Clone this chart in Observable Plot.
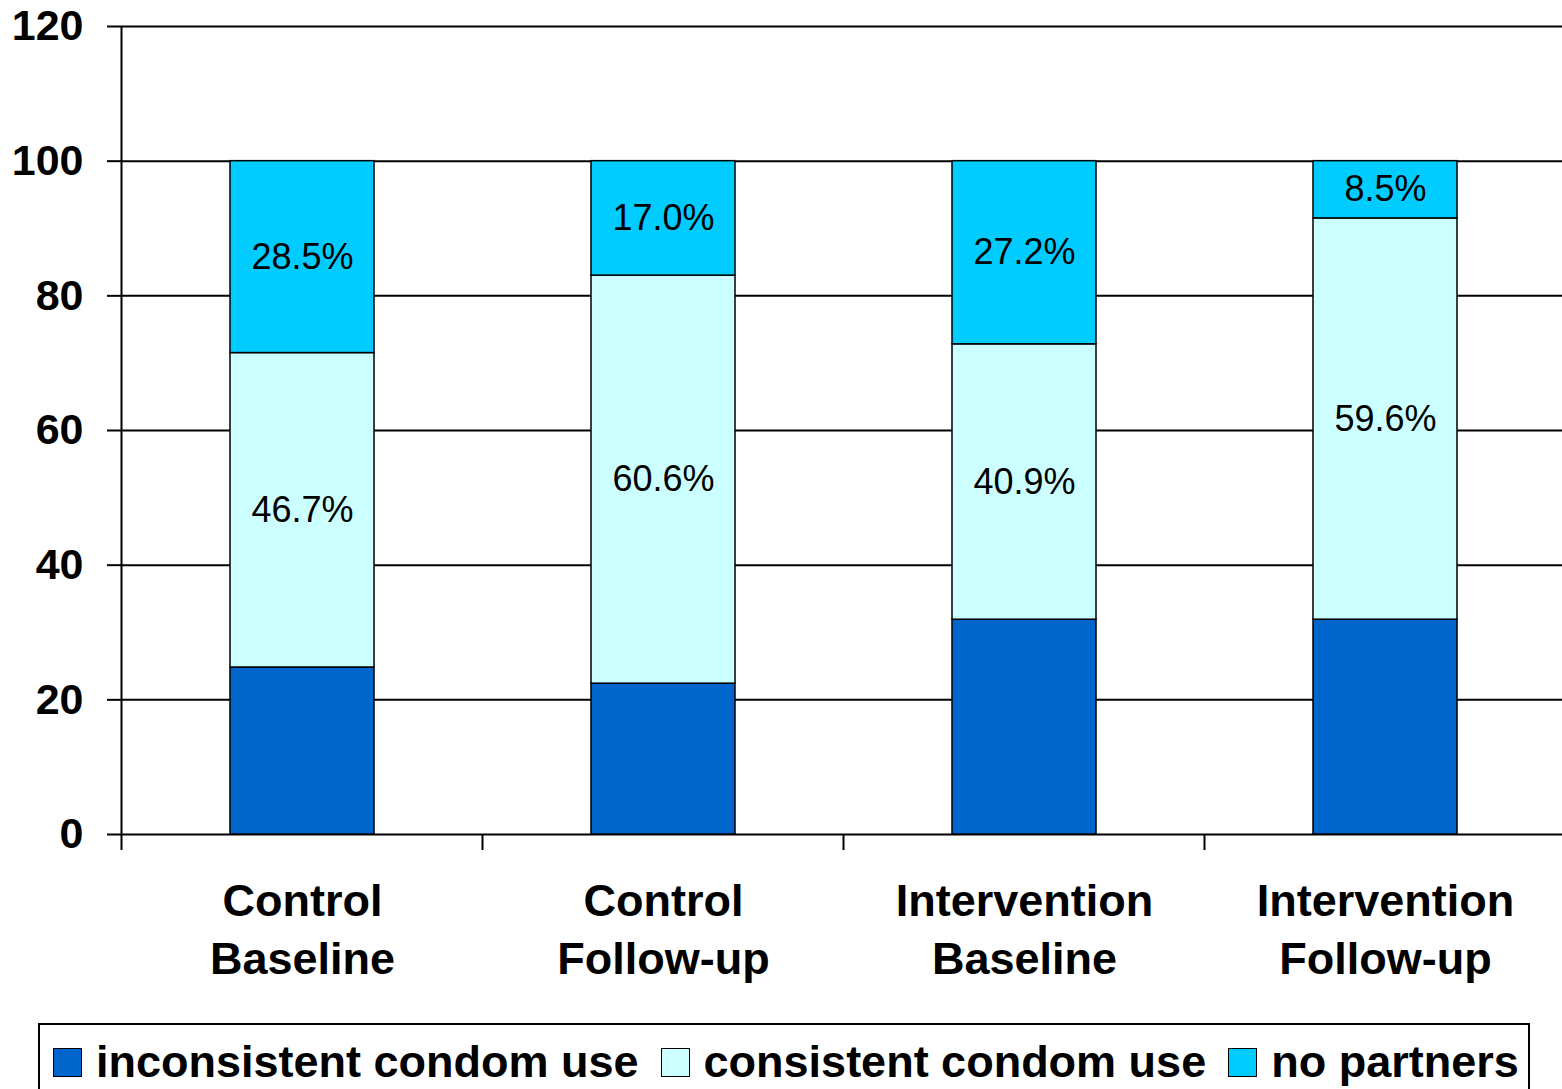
<!DOCTYPE html>
<html>
<head>
<meta charset="utf-8">
<script src="https://cdn.jsdelivr.net/npm/d3@7"></script>
<script src="https://cdn.jsdelivr.net/npm/@observablehq/plot@0.6"></script>
<style>
  html, body { margin: 0; padding: 0; background: #fff; }
  body { width: 1562px; height: 1089px; overflow: hidden; position: relative; font-family: "Liberation Sans", Arial, sans-serif; }
  #legend { position: absolute; left: 38px; top: 1023px; width: 1492px; height: 80px; border: 2px solid #000; box-sizing: border-box; display: flex; align-items: flex-start; padding-left: 13px; padding-top: 19px; }
  .item { display: flex; align-items: center; font-weight: bold; font-size: 45px; line-height: 36px; margin-right: 22px; white-space: nowrap; }
  .sw { width: 29px; height: 29px; border: 1.5px solid #000; margin-right: 14px; box-sizing: border-box; }
</style>
</head>
<body>
<div id="chart"></div>
<div id="legend"></div>
<script>
const categories = ["Control\nBaseline", "Control\nFollow-up", "Intervention\nBaseline", "Intervention\nFollow-up"];
const seriesNames = ["inconsistent condom use", "consistent condom use", "no partners"];
const inconsistent = [24.8, 22.4, 31.9, 31.9];
const consistent = [46.7, 60.6, 40.9, 59.6];
const noPartners = [28.5, 17.0, 27.2, 8.5];
const yTicks = [0, 20, 40, 60, 80, 100, 120];
const colors = ["#0066CC", "#CCFFFF", "#00CCFF"];

const seriesValues = [inconsistent, consistent, noPartners];
const data = [];
seriesNames.forEach((s, si) => {
  categories.forEach((c, ci) => data.push({cat: c, series: s, value: seriesValues[si][ci], labelled: si > 0}));
});

function bandBoundaryTicks(index, scales, values, dims, context) {
  const doc = context.document;
  const g = doc.createElementNS("http://www.w3.org/2000/svg", "g");
  const x = scales.x, y = scales.y;
  const x0 = x(categories[0]);
  const step = x(categories[1]) - x0;
  let bw = typeof x.bandwidth === "function" ? x.bandwidth() : x.bandwidth;
  if (!(bw > 0)) bw = step * 0.4;
  const gap = (step - bw) / 2;
  const y0 = y(0);
  const yTop = y(120);
  const axis = doc.createElementNS("http://www.w3.org/2000/svg", "line");
  axis.setAttribute("x1", x0 - gap); axis.setAttribute("x2", x0 - gap);
  axis.setAttribute("y1", yTop); axis.setAttribute("y2", y0);
  axis.setAttribute("stroke", "#000"); axis.setAttribute("stroke-width", 2);
  g.appendChild(axis);
  categories.forEach(c => {
    const bx = x(c) - gap;
    const l = doc.createElementNS("http://www.w3.org/2000/svg", "line");
    l.setAttribute("x1", bx); l.setAttribute("x2", bx);
    l.setAttribute("y1", y0); l.setAttribute("y2", y0 + 16);
    l.setAttribute("stroke", "#000"); l.setAttribute("stroke-width", 2);
    g.appendChild(l);
  });
  return g;
}

const chart = Plot.plot({
  width: 1562,
  height: 1010,
  marginTop: 26,
  marginLeft: 122,
  marginRight: -4,
  marginBottom: 176,
  style: {fontFamily: "'Liberation Sans', Arial, sans-serif", background: "#fff", color: "#000", overflow: "hidden"},
  x: {domain: categories, paddingInner: 0.6, paddingOuter: 0.3, label: null},
  y: {domain: [0, 120], ticks: yTicks, label: null},
  color: {domain: seriesNames, range: colors},
  marks: [
    Plot.gridY(yTicks, {stroke: "#000", strokeOpacity: 1, strokeWidth: 2}),
    Plot.axisY(yTicks, {tickSize: 15, tickPadding: 24, fontSize: 43, fontWeight: "bold", strokeWidth: 2, label: null}),
    Plot.axisX({tickSize: 0, tickPadding: 40, fontSize: 45, fontWeight: "bold", lineHeight: 1.29, label: null, tickFormat: d => d}),
    Plot.barY(data, Plot.stackY({x: "cat", y: "value", z: "series", fill: "series", stroke: "#000", strokeWidth: 1.5})),
    Plot.text(data, Plot.stackY({x: "cat", y: "value", z: "series", text: d => d.labelled ? d.value.toFixed(1) + "%" : "", fontSize: 36, fill: "#000"})),
    bandBoundaryTicks
  ]
});
document.getElementById("chart").appendChild(chart);

const legend = document.getElementById("legend");
seriesNames.forEach((s, i) => {
  const item = document.createElement("div");
  item.className = "item";
  const sw = document.createElement("span");
  sw.className = "sw";
  sw.style.background = colors[i];
  item.appendChild(sw);
  item.appendChild(document.createTextNode(s));
  legend.appendChild(item);
});
</script>
</body>
</html>
